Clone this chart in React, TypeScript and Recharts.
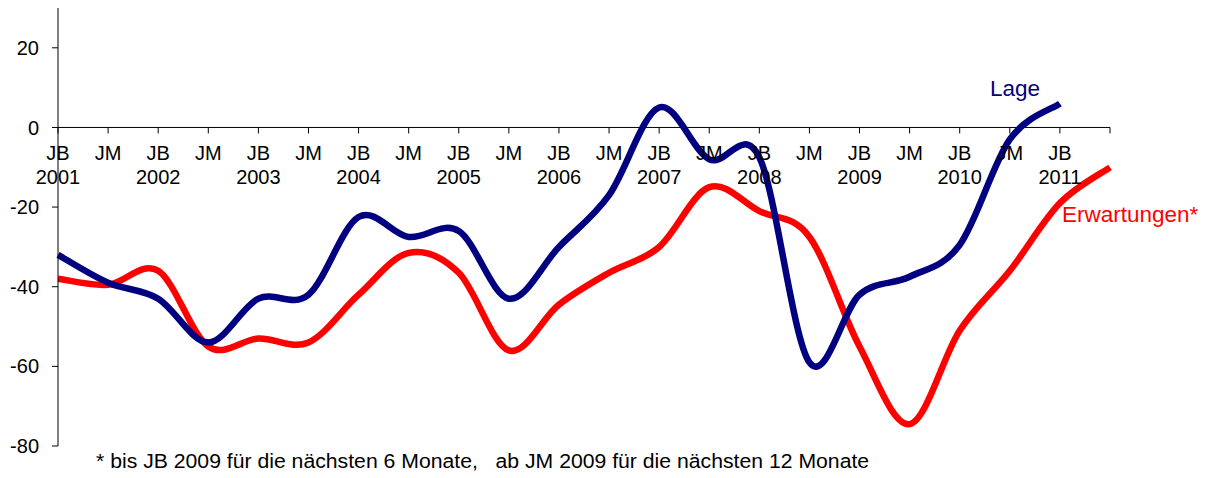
import { LineChart, Line, XAxis, YAxis, ReferenceLine } from "recharts";

// Halbjahre: JB = Jahresbeginn, JM = Jahresmitte
const periods = [
  "JB 2001", "JM 2001", "JB 2002", "JM 2002", "JB 2003", "JM 2003",
  "JB 2004", "JM 2004", "JB 2005", "JM 2005", "JB 2006", "JM 2006",
  "JB 2007", "JM 2007", "JB 2008", "JM 2008", "JB 2009", "JM 2009",
  "JB 2010", "JM 2010", "JB 2011", "JM 2011",
];
const tickTop = [
  "JB", "JM", "JB", "JM", "JB", "JM", "JB", "JM", "JB", "JM", "JB",
  "JM", "JB", "JM", "JB", "JM", "JB", "JM", "JB", "JM", "JB", "",
];
const tickYear = [
  "2001", "", "2002", "", "2003", "", "2004", "", "2005", "", "2006",
  "", "2007", "", "2008", "", "2009", "", "2010", "", "2011", "",
];
const lage = [
  -32, -39, -43, -54, -43, -42, -22.5, -27.5, -26, -43, -30, -17,
  5, -8, -7.5, -59, -42, -37.5, -29.5, -3, 6, null,
];
const erwartungen = [
  -38, -39.5, -36, -55, -53, -54, -42, -31.5, -36.5, -56, -44.5, -36.5,
  -30, -15, -21, -27.5, -55, -74.5, -51, -36, -19, -10,
];
const yTicks = [-80, -60, -40, -20, 0, 20];
const yDomain = [-80, 30];

const data = periods.map((p, i) => ({
  period: p,
  lage: lage[i],
  erwartungen: erwartungen[i],
}));

const W = 1208;
const H = 478;
const X_AXIS_H = 30;
const M = { top: 8, right: 98, bottom: 2, left: 0 };
const plotH = H - M.top - M.bottom - X_AXIS_H;
// pixel row of the value 0 (where Excel crosses the category axis)
const zeroY = M.top + (plotH * yDomain[1]) / (yDomain[1] - yDomain[0]);

const font = "'Liberation Sans', Arial, sans-serif";

// Excel-style smoothed line (uniform Catmull-Rom through the points)
function excelCurve(context: any) {
  let pts: number[][] = [];
  return {
    areaStart() {},
    areaEnd() {},
    lineStart() {
      pts = [];
    },
    point(x: number, y: number) {
      pts.push([+x, +y]);
    },
    lineEnd() {
      if (!pts.length) return;
      context.moveTo(pts[0][0], pts[0][1]);
      for (let i = 0; i < pts.length - 1; i++) {
        const p0 = pts[i - 1] || pts[i];
        const p1 = pts[i];
        const p2 = pts[i + 1];
        const p3 = pts[i + 2] || pts[i + 1];
        context.bezierCurveTo(
          p1[0] + (p2[0] - p0[0]) / 6,
          p1[1] + (p2[1] - p0[1]) / 6,
          p2[0] - (p3[0] - p1[0]) / 6,
          p2[1] - (p3[1] - p1[1]) / 6,
          p2[0],
          p2[1]
        );
      }
    },
  };
}

function CategoryTick(props: any) {
  const { x, index } = props;
  return (
    <g>
      <line x1={x} x2={x} y1={zeroY} y2={zeroY + 6} stroke="#000" strokeWidth={1} />
      <text x={x} y={zeroY + 33} textAnchor="middle" fontSize={20} fontFamily={font} fill="#000">
        {tickTop[index]}
      </text>
      <text x={x} y={zeroY + 57} textAnchor="middle" fontSize={20} fontFamily={font} fill="#000">
        {tickYear[index]}
      </text>
    </g>
  );
}

export default function App() {
  return (
    <div style={{ position: "absolute", left: 0, top: 0, width: W, height: H, background: "#fff" }}>
      <LineChart width={W} height={H} data={data} margin={M}>
        <XAxis
          dataKey="period"
          scale="point"
          height={X_AXIS_H}
          padding={{ left: 0, right: 0 }}
          axisLine={false}
          tickLine={false}
          interval={0}
          tick={<CategoryTick />}
        />
        <YAxis
          domain={yDomain}
          ticks={yTicks}
          width={58}
          allowDataOverflow
          axisLine={{ stroke: "#000", strokeWidth: 1 }}
          tickLine={{ stroke: "#000", strokeWidth: 1 }}
          tickSize={6}
          tickMargin={13}
          tick={{ fill: "#000", fontSize: 20, fontFamily: font }}
        />
        <ReferenceLine y={0} stroke="#000" strokeWidth={1} />
        <Line
          dataKey="erwartungen"
          type={excelCurve as any}
          stroke="#ff0000"
          strokeWidth={6.5}
          dot={false}
          activeDot={false}
          isAnimationActive={false}
        />
        <Line
          dataKey="lage"
          type={excelCurve as any}
          stroke="#000080"
          strokeWidth={6.5}
          dot={false}
          activeDot={false}
          isAnimationActive={false}
        />
      </LineChart>
      <div style={{ position: "absolute", left: 990, top: 76, fontSize: 22.5, fontFamily: font, color: "#000080" }}>
        Lage
      </div>
      <div style={{ position: "absolute", left: 1062, top: 202, fontSize: 22.5, fontFamily: font, color: "#ff0000" }}>
        Erwartungen*
      </div>
      <div
        style={{
          position: "absolute",
          left: 96,
          top: 450,
          fontSize: 20,
          fontFamily: font,
          color: "#000",
          whiteSpace: "pre",
          transform: "scaleX(1.06)",
          transformOrigin: "left",
        }}
      >
        {"* bis JB 2009 für die nächsten 6 Monate,   ab JM 2009 für die nächsten 12 Monate"}
      </div>
    </div>
  );
}
